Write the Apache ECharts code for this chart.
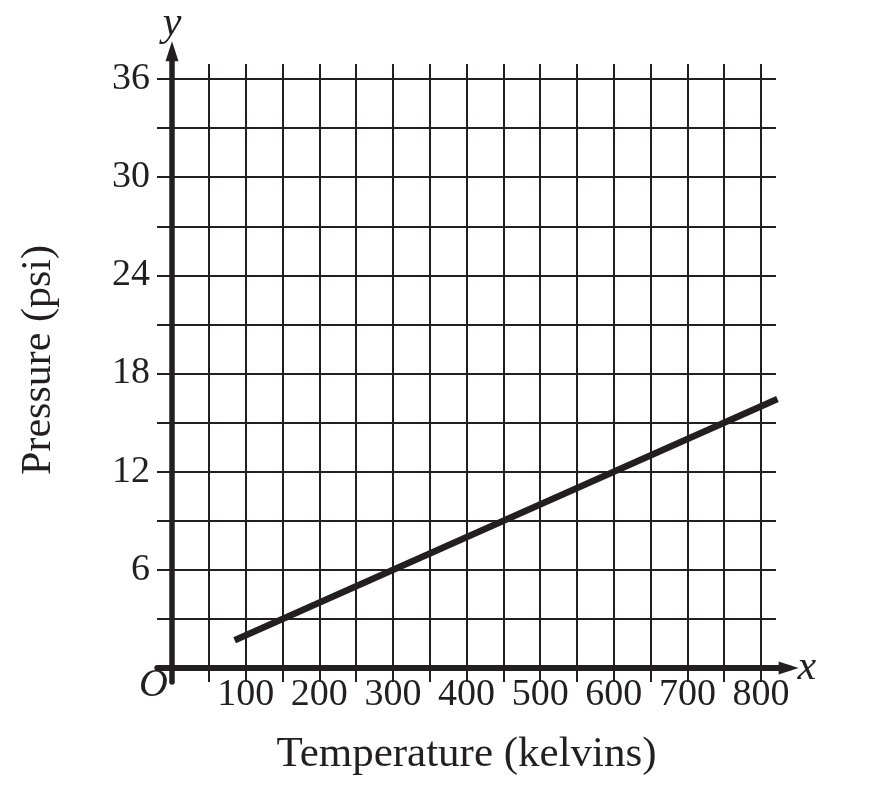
<!DOCTYPE html>
<html>
<head>
<meta charset="utf-8">
<script src="https://cdn.jsdelivr.net/npm/echarts@6/dist/echarts.min.js"></script>
<style>
html,body{margin:0;padding:0;background:#fff;}
#chart{width:869px;height:790px;}
</style>
</head>
<body>
<div id="chart"></div>
<script>
// ---- data ----
const temperature = [85, 822];      // kelvins (line end points)
const pressure = [1.7, 16.44];      // psi
const xTickLabels = [100, 200, 300, 400, 500, 600, 700, 800];
const yTickLabels = [6, 12, 18, 24, 30, 36];
const xTitle = 'Temperature (kelvins)';
const yTitle = 'Pressure (psi)';

const INK = '#231f20';
const FONT = 'Liberation Serif';

const chart = echarts.init(document.getElementById('chart'), null, {renderer: 'canvas'});

const gridLine = {show: true, lineStyle: {color: INK, width: 2}};
const hiddenAxis = (gi, min, max) => ({gridIndex: gi, type: 'value', min: min, max: max, show: false});

const option = {
  backgroundColor: '#fff',
  animation: false,
  grid: [
    // 0 H: horizontal gridlines, y labels, data line
    {left: 172, top: 79, width: 604, height: 589},
    // 1 V: vertical gridlines, x labels, x title
    {left: 172, top: 64, width: 589, height: 604},
    // 2 x-axis line with arrow
    {left: 157.3, top: 51.2, width: 631.3, height: 616.8},
    // 3 y-axis line with arrow
    {left: 172, top: 51.2, width: 600, height: 630.9},
    // 4 y title holder
    {left: 172, top: 40, width: 600, height: 640}
  ],
  xAxis: [
    hiddenAxis(0, 0, 820),
    {
      gridIndex: 1, type: 'value', min: 0, max: 800, interval: 50,
      axisLine: {show: false},
      axisTick: {show: true, length: 14, lineStyle: {color: INK, width: 2}},
      splitLine: gridLine,
      axisLabel: {
        margin: 8, fontFamily: FONT, fontSize: 38, color: INK,
        formatter: v => xTickLabels.includes(v) ? String(v) : ''
      },
      name: xTitle, nameLocation: 'middle', nameGap: 65,
      nameTextStyle: {fontFamily: FONT, fontSize: 43, color: INK}
    },
    {
      gridIndex: 2, type: 'value', min: -20, max: 837, position: 'bottom',
      axisLine: {show: true, onZero: false, symbol: ['none', 'triangle'], symbolSize: [13, 20],
        lineStyle: {color: INK, width: 6}},
      axisTick: {show: false}, axisLabel: {show: false}, splitLine: {show: false},
      name: 'x', nameLocation: 'end', nameGap: 9,
      nameTextStyle: {fontFamily: FONT, fontSize: 42, fontStyle: 'italic', color: INK, padding: [0, 0, 10, 0]}
    },
    hiddenAxis(3, 0, 1),
    hiddenAxis(4, 0, 1)
  ],
  yAxis: [
    {
      gridIndex: 0, type: 'value', min: 0, max: 36, interval: 3,
      axisLine: {show: false},
      axisTick: {show: true, length: 15, lineStyle: {color: INK, width: 2}},
      splitLine: gridLine,
      axisLabel: {
        margin: 22, fontFamily: FONT, fontSize: 38, color: INK,
        formatter: v => yTickLabels.includes(v) ? String(v) : ''
      }
    },
    hiddenAxis(1, 0, 36.92),
    hiddenAxis(2, 0, 1),
    {
      gridIndex: 3, type: 'value', min: -0.86, max: 37.7, position: 'left',
      axisLine: {show: true, onZero: false, symbol: ['none', 'triangle'], symbolSize: [13, 20],
        lineStyle: {color: INK, width: 5.5}},
      axisTick: {show: false}, axisLabel: {show: false}, splitLine: {show: false},
      name: 'y', nameLocation: 'end', nameGap: 6,
      nameTextStyle: {fontFamily: FONT, fontSize: 42, fontStyle: 'italic', color: INK}
    },
    {
      gridIndex: 4, type: 'value', min: 0, max: 1, position: 'left',
      axisLine: {show: false}, axisTick: {show: false}, axisLabel: {show: false}, splitLine: {show: false},
      name: yTitle, nameLocation: 'middle', nameGap: 112, nameRotate: 90,
      nameTextStyle: {fontFamily: FONT, fontSize: 42, color: INK}
    }
  ],
  graphic: [
    {type: 'text', left: 139, top: 665,
      style: {text: 'O', fontFamily: FONT, fontSize: 40, fontStyle: 'italic', fill: INK}}
  ],
  series: [
    {
      type: 'line', xAxisIndex: 0, yAxisIndex: 0,
      data: temperature.map((t, i) => [t, pressure[i]]),
      showSymbol: false, symbol: 'none', clip: false,
      lineStyle: {color: INK, width: 6.5, cap: 'butt'},
      z: 5
    }
  ]
};
chart.setOption(option);
</script>
</body>
</html>
